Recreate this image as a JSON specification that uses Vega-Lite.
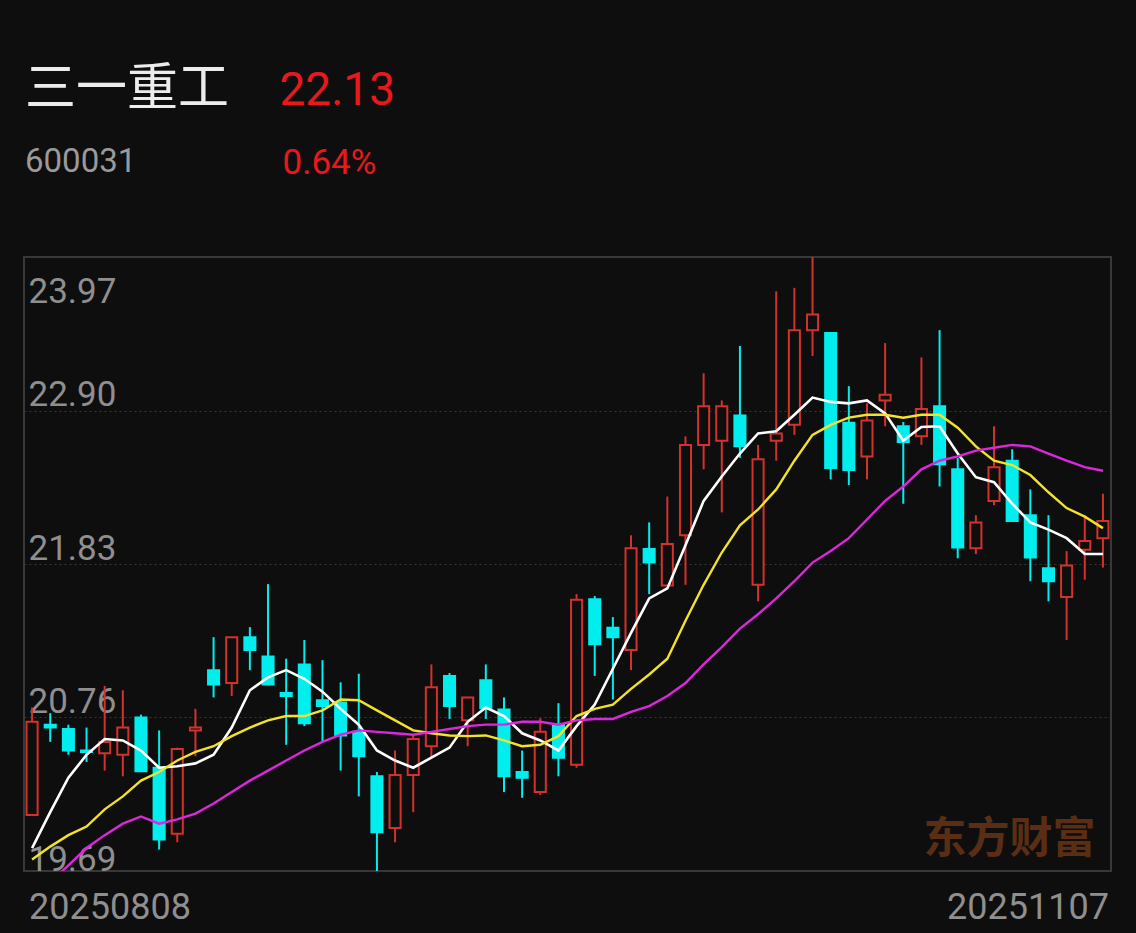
{
  "$schema": "https://vega.github.io/schema/vega-lite/v6.json",
  "width": 1087,
  "height": 614,
  "autosize": "none",
  "padding": {"left": 24, "top": 257, "right": 25, "bottom": 62},
  "background": "#0e0e0e",
  "config": {
    "view": {"stroke": "#383838", "strokeWidth": 2},
    "title": {"baseline": "top"}
  },
  "title": {
    "text": "三一重工",
    "subtitle": "600031",
    "anchor": "start",
    "frame": "group",
    "orient": "top",
    "font": "Noto Sans CJK SC",
    "fontSize": 51,
    "fontWeight": "normal",
    "color": "#ececec",
    "subtitleFont": "Roboto",
    "subtitleFontSize": 33,
    "subtitleColor": "#9a9a9a",
    "subtitlePadding": 30,
    "offset": -113,
    "dx": 1
  },
  "data": {
    "values": [
      {"d": "20250808", "o": 20.08, "c": 20.73, "h": 20.83, "l": 20.08, "ma5": 19.85, "ma10": 19.77, "ma20": 19.50},
      {"d": "20250811", "o": 20.71, "c": 20.69, "h": 20.79, "l": 20.59, "ma5": 20.10, "ma10": 19.86, "ma20": 19.61},
      {"d": "20250812", "o": 20.68, "c": 20.53, "h": 20.71, "l": 20.50, "ma5": 20.34, "ma10": 19.94, "ma20": 19.73},
      {"d": "20250813", "o": 20.53, "c": 20.52, "h": 20.69, "l": 20.45, "ma5": 20.50, "ma10": 20.00, "ma20": 19.85},
      {"d": "20250814", "o": 20.51, "c": 20.59, "h": 20.98, "l": 20.39, "ma5": 20.61, "ma10": 20.12, "ma20": 19.94},
      {"d": "20250815", "o": 20.50, "c": 20.69, "h": 20.95, "l": 20.35, "ma5": 20.60, "ma10": 20.21, "ma20": 20.02},
      {"d": "20250818", "o": 20.76, "c": 20.385, "h": 20.78, "l": 20.38, "ma5": 20.53, "ma10": 20.32, "ma20": 20.07},
      {"d": "20250819", "o": 20.41, "c": 19.91, "h": 20.67, "l": 19.84, "ma5": 20.41, "ma10": 20.38, "ma20": 20.02},
      {"d": "20250820", "o": 19.95, "c": 20.54, "h": 20.55, "l": 19.89, "ma5": 20.42, "ma10": 20.46, "ma20": 20.05},
      {"d": "20250821", "o": 20.67, "c": 20.69, "h": 20.82, "l": 20.49, "ma5": 20.44, "ma10": 20.52, "ma20": 20.09},
      {"d": "20250822", "o": 21.09, "c": 20.99, "h": 21.32, "l": 20.90, "ma5": 20.50, "ma10": 20.56, "ma20": 20.16},
      {"d": "20250825", "o": 21.00, "c": 21.32, "h": 21.32, "l": 20.91, "ma5": 20.69, "ma10": 20.63, "ma20": 20.24},
      {"d": "20250826", "o": 21.32, "c": 21.23, "h": 21.39, "l": 21.09, "ma5": 20.95, "ma10": 20.69, "ma20": 20.32},
      {"d": "20250827", "o": 21.185, "c": 20.99, "h": 21.69, "l": 20.99, "ma5": 21.04, "ma10": 20.74, "ma20": 20.39},
      {"d": "20250828", "o": 20.93, "c": 20.91, "h": 21.17, "l": 20.57, "ma5": 21.09, "ma10": 20.77, "ma20": 20.46},
      {"d": "20250829", "o": 21.13, "c": 20.72, "h": 21.30, "l": 20.70, "ma5": 21.03, "ma10": 20.77, "ma20": 20.53},
      {"d": "20250901", "o": 20.88, "c": 20.84, "h": 21.16, "l": 20.59, "ma5": 20.94, "ma10": 20.81, "ma20": 20.59},
      {"d": "20250902", "o": 20.865, "c": 20.635, "h": 21.005, "l": 20.39, "ma5": 20.82, "ma10": 20.885, "ma20": 20.64},
      {"d": "20250903", "o": 20.66, "c": 20.49, "h": 21.065, "l": 20.21, "ma5": 20.71, "ma10": 20.88, "ma20": 20.67},
      {"d": "20250904", "o": 20.35, "c": 19.96, "h": 20.38, "l": 19.69, "ma5": 20.53, "ma10": 20.81, "ma20": 20.66},
      {"d": "20250905", "o": 19.99, "c": 20.36, "h": 20.53, "l": 19.89, "ma5": 20.46, "ma10": 20.74, "ma20": 20.65},
      {"d": "20250908", "o": 20.36, "c": 20.61, "h": 20.645, "l": 20.10, "ma5": 20.41, "ma10": 20.67, "ma20": 20.64},
      {"d": "20250909", "o": 20.56, "c": 20.97, "h": 21.13, "l": 20.48, "ma5": 20.48, "ma10": 20.65, "ma20": 20.66},
      {"d": "20250910", "o": 21.05, "c": 20.84, "h": 21.07, "l": 20.75, "ma5": 20.55, "ma10": 20.635, "ma20": 20.68},
      {"d": "20250911", "o": 20.74, "c": 20.90, "h": 20.90, "l": 20.56, "ma5": 20.73, "ma10": 20.63, "ma20": 20.70},
      {"d": "20250912", "o": 21.02, "c": 20.825, "h": 21.13, "l": 20.75, "ma5": 20.83, "ma10": 20.635, "ma20": 20.71},
      {"d": "20250915", "o": 20.815, "c": 20.35, "h": 20.90, "l": 20.24, "ma5": 20.77, "ma10": 20.60, "ma20": 20.71},
      {"d": "20250916", "o": 20.38, "c": 20.34, "h": 20.53, "l": 20.20, "ma5": 20.65, "ma10": 20.56, "ma20": 20.73},
      {"d": "20250917", "o": 20.24, "c": 20.66, "h": 20.755, "l": 20.22, "ma5": 20.60, "ma10": 20.57, "ma20": 20.73},
      {"d": "20250918", "o": 20.71, "c": 20.48, "h": 20.86, "l": 20.35, "ma5": 20.53, "ma10": 20.63, "ma20": 20.71},
      {"d": "20250919", "o": 20.43, "c": 21.58, "h": 21.62, "l": 20.41, "ma5": 20.70, "ma10": 20.77, "ma20": 20.74},
      {"d": "20250922", "o": 21.585, "c": 21.27, "h": 21.607, "l": 21.05, "ma5": 20.85, "ma10": 20.82, "ma20": 20.75},
      {"d": "20250923", "o": 21.385, "c": 21.32, "h": 21.46, "l": 20.885, "ma5": 21.10, "ma10": 20.85, "ma20": 20.75},
      {"d": "20250924", "o": 21.23, "c": 21.94, "h": 22.03, "l": 21.09, "ma5": 21.35, "ma10": 20.96, "ma20": 20.80},
      {"d": "20250925", "o": 21.935, "c": 21.84, "h": 22.12, "l": 21.62, "ma5": 21.59, "ma10": 21.06, "ma20": 20.84},
      {"d": "20250926", "o": 21.68, "c": 21.97, "h": 22.30, "l": 21.68, "ma5": 21.66, "ma10": 21.17, "ma20": 20.91},
      {"d": "20250929", "o": 22.03, "c": 22.66, "h": 22.72, "l": 21.685, "ma5": 21.96, "ma10": 21.435, "ma20": 21.00},
      {"d": "20250930", "o": 22.66, "c": 22.93, "h": 23.16, "l": 22.49, "ma5": 22.27, "ma10": 21.685, "ma20": 21.13},
      {"d": "20251009", "o": 22.69, "c": 22.93, "h": 22.97, "l": 22.19, "ma5": 22.44, "ma10": 21.91, "ma20": 21.25},
      {"d": "20251010", "o": 22.865, "c": 22.65, "h": 23.35, "l": 22.57, "ma5": 22.60, "ma10": 22.10, "ma20": 21.38},
      {"d": "20251013", "o": 21.685, "c": 22.56, "h": 22.66, "l": 21.57, "ma5": 22.74, "ma10": 22.21, "ma20": 21.48},
      {"d": "20251014", "o": 22.69, "c": 22.74, "h": 23.73, "l": 22.55, "ma5": 22.755, "ma10": 22.35, "ma20": 21.59},
      {"d": "20251015", "o": 22.80, "c": 23.46, "h": 23.755, "l": 22.73, "ma5": 22.87, "ma10": 22.55, "ma20": 21.71},
      {"d": "20251016", "o": 23.46, "c": 23.57, "h": 23.97, "l": 23.28, "ma5": 22.99, "ma10": 22.73, "ma20": 21.84},
      {"d": "20251017", "o": 23.44, "c": 22.50, "h": 23.44, "l": 22.42, "ma5": 22.96, "ma10": 22.80, "ma20": 21.92},
      {"d": "20251020", "o": 22.815, "c": 22.485, "h": 23.07, "l": 22.38, "ma5": 22.95, "ma10": 22.85, "ma20": 22.01},
      {"d": "20251021", "o": 22.58, "c": 22.83, "h": 22.95, "l": 22.42, "ma5": 22.97, "ma10": 22.87, "ma20": 22.14},
      {"d": "20251022", "o": 22.97, "c": 23.01, "h": 23.37, "l": 22.79, "ma5": 22.88, "ma10": 22.87, "ma20": 22.27},
      {"d": "20251023", "o": 22.79, "c": 22.68, "h": 22.82, "l": 22.25, "ma5": 22.69, "ma10": 22.85, "ma20": 22.37},
      {"d": "20251024", "o": 22.72, "c": 22.91, "h": 23.27, "l": 22.66, "ma5": 22.785, "ma10": 22.87, "ma20": 22.49},
      {"d": "20251027", "o": 22.93, "c": 22.525, "h": 23.46, "l": 22.37, "ma5": 22.79, "ma10": 22.87, "ma20": 22.55},
      {"d": "20251028", "o": 22.49, "c": 21.945, "h": 22.57, "l": 21.87, "ma5": 22.60, "ma10": 22.78, "ma20": 22.58},
      {"d": "20251029", "o": 21.94, "c": 22.12, "h": 22.17, "l": 21.90, "ma5": 22.435, "ma10": 22.65, "ma20": 22.62},
      {"d": "20251030", "o": 22.27, "c": 22.505, "h": 22.79, "l": 22.24, "ma5": 22.40, "ma10": 22.55, "ma20": 22.64},
      {"d": "20251031", "o": 22.55, "c": 22.13, "h": 22.63, "l": 22.13, "ma5": 22.25, "ma10": 22.52, "ma20": 22.66},
      {"d": "20251103", "o": 22.17, "c": 21.875, "h": 22.35, "l": 21.71, "ma5": 22.12, "ma10": 22.45, "ma20": 22.65},
      {"d": "20251104", "o": 21.80, "c": 21.71, "h": 22.17, "l": 21.57, "ma5": 22.07, "ma10": 22.33, "ma20": 22.60},
      {"d": "20251105", "o": 21.60, "c": 21.82, "h": 21.92, "l": 21.30, "ma5": 22.01, "ma10": 22.22, "ma20": 22.55},
      {"d": "20251106", "o": 21.93, "c": 21.99, "h": 22.17, "l": 21.72, "ma5": 21.90, "ma10": 22.16, "ma20": 22.505},
      {"d": "20251107", "o": 22.01, "c": 22.13, "h": 22.32, "l": 21.805, "ma5": 21.90, "ma10": 22.08, "ma20": 22.48}
    ]
  },
  "encoding": {
    "x": {
      "field": "d",
      "type": "ordinal",
      "sort": null,
      "scale": {"paddingInner": 0.39, "paddingOuter": 0.14},
      "axis": {
        "values": ["20250808", "20251107"],
        "labelAngle": 0,
        "labelAlign": {"condition": {"test": "datum.value == '20250808'", "value": "left"}, "value": "right"},
        "labelOffset": {"condition": {"test": "datum.value == '20250808'", "value": -3}, "value": 6},
        "labelFont": "Roboto",
        "labelFontSize": 36,
        "labelColor": "#8f8f8f",
        "labelBaseline": "alphabetic",
        "labelPadding": 47,
        "ticks": false,
        "tickSize": 0,
        "domain": false,
        "grid": false,
        "labelOverlap": false,
        "title": "东方财富",
        "titleFont": "Noto Sans CJK SC",
        "titleFontWeight": "bold",
        "titleFontSize": 43,
        "titleColor": "#5a2e14",
        "titleX": 899,
        "titleY": -19,
        "titleAlign": "left",
        "titleBaseline": "alphabetic",
        "titleAngle": 0
      }
    }
  },
  "layer": [
    {
      "mark": {"type": "rule", "strokeWidth": 2},
      "encoding": {
        "y": {
          "field": "l",
          "type": "quantitative",
          "scale": {"domain": [19.69, 23.97], "nice": false, "zero": false},
          "axis": {
            "orient": "left",
            "values": [19.69, 20.76, 21.83, 22.90, 23.97],
            "format": ".2f",
            "labelAlign": "left",
            "labelBaseline": "alphabetic",
            "labelPadding": -4,
            "labelOffset": {"condition": [{"test": "datum.value > 23.9", "value": 45}, {"test": "datum.value < 19.7", "value": -1}], "value": -5},
            "labelFont": "Roboto",
            "labelFontSize": 35,
            "labelColor": "#8f8f8f",
            "labelFlush": false,
            "labelBound": false,
            "labelOverlap": false,
            "ticks": false,
            "tickSize": 0,
            "domain": false,
            "grid": true,
            "gridColor": "#363636",
            "gridDash": [2, 3],
            "gridWidth": 1,
            "title": "22.13",
            "titleColor": "#e8181d",
            "titleFont": "Roboto",
            "titleFontSize": 46,
            "titleFontWeight": "normal",
            "titleAngle": 0,
            "titleAlign": "left",
            "titleBaseline": "alphabetic",
            "titleX": 255,
            "titleY": -153
          }
        },
        "y2": {"field": "h"},
        "color": {"condition": {"test": "datum.c >= datum.o", "value": "#d3322c"}, "value": "#00eeee"}
      }
    },
    {
      "mark": {"type": "bar", "strokeWidth": 2},
      "encoding": {
        "y": {"field": "o", "type": "quantitative", "scale": {"domain": [19.69, 23.97], "nice": false, "zero": false}, "axis": null},
        "y2": {"field": "c"},
        "fill": {"condition": {"test": "datum.c >= datum.o", "value": "#0e0e0e"}, "value": "#00eeee"},
        "stroke": {"condition": {"test": "datum.c >= datum.o", "value": "#d3322c"}, "value": "#00eeee"}
      }
    },
    {
      "mark": {"type": "line", "strokeWidth": 2.6, "color": "#ffffff"},
      "encoding": {
        "y": {"field": "ma5", "type": "quantitative", "scale": {"domain": [19.69, 23.97], "nice": false, "zero": false}, "axis": null}
      }
    },
    {
      "mark": {"type": "line", "strokeWidth": 2.4, "color": "#f2e22a"},
      "encoding": {
        "y": {"field": "ma10", "type": "quantitative", "scale": {"domain": [19.69, 23.97], "nice": false, "zero": false}, "axis": null}
      }
    },
    {
      "mark": {"type": "line", "strokeWidth": 2.4, "color": "#dc27dc", "clip": true},
      "encoding": {
        "y": {
          "field": "ma20",
          "type": "quantitative",
          "scale": {"domain": [19.69, 23.97], "nice": false, "zero": false},
          "axis": {
            "orient": "right",
            "labels": false,
            "ticks": false,
            "domain": false,
            "grid": false,
            "title": "0.64%",
            "titleColor": "#e8181d",
            "titleFont": "Roboto",
            "titleFontSize": 35,
            "titleFontWeight": "normal",
            "titleAngle": 0,
            "titleAlign": "left",
            "titleBaseline": "alphabetic",
            "titleX": -829,
            "titleY": -84
          }
        }
      }
    }
  ],
  "resolve": {"axis": {"y": "independent"}}
}
